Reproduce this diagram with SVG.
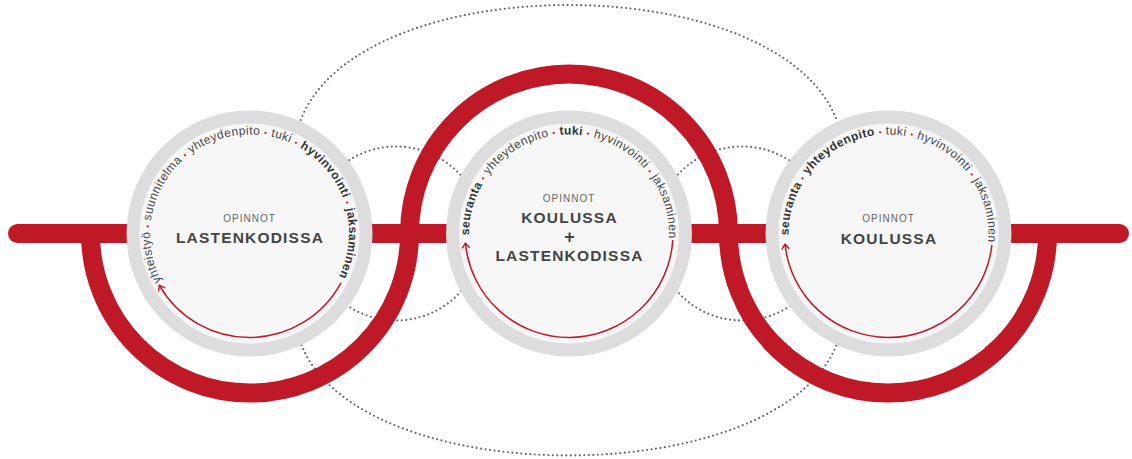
<svg xmlns="http://www.w3.org/2000/svg" width="1132" height="459" viewBox="0 0 1132 459">
<style>
.dotline{fill:none;stroke:#6a6a6a;stroke-width:2.2;stroke-linecap:round;stroke-dasharray:0 4.5}
.red{fill:none;stroke:#BF1827;stroke-width:19}
.ring{fill:#DCDDDC}
.inner{fill:#F7F7F7}
.arc{font-family:"Liberation Sans",Arial,sans-serif;font-size:12px;fill:#474747;letter-spacing:0.42px}
.b{font-weight:bold;fill:#333}
.sep{fill:#BF1827;font-size:8px}
.op{font-family:"Liberation Sans",Arial,sans-serif;font-size:10px;fill:#666;letter-spacing:1px;text-anchor:middle}
.ttl{font-family:"Liberation Sans",Arial,sans-serif;font-size:15.5px;font-weight:bold;fill:#444;letter-spacing:1.2px;text-anchor:middle}
.arrow{fill:none;stroke:#BF1827;stroke-width:1.5}
</style>
<defs>
<marker id="ah" markerUnits="userSpaceOnUse" viewBox="-7 -5 9 10" markerWidth="9" markerHeight="10" refX="0" refY="0" orient="auto">
<path d="M-5,-3.8 L0,0 L-5,3.8" fill="none" stroke="#BF1827" stroke-width="1.4"/>
</marker>
<path id="tp1" d="M161.54,281.06 A100,100 0 0 1 337.46,185.94 A100,100 0 0 1 161.54,281.06"/>
<path id="tp2" d="M469.02,235.25 A100,100 0 0 1 668.98,231.75 A100,100 0 0 1 469.02,235.25"/>
<path id="tp3" d="M788.52,235.25 A100,100 0 0 1 988.48,231.75 A100,100 0 0 1 788.52,235.25"/>
</defs>
<rect width="1132" height="459" fill="#ffffff"/>
<g id="connectors">
<path class="dotline" d="M300.7,120 C360,-33.3 777.4,-33.3 836.7,120"/>
<path class="dotline" d="M301.5,345 C360,492.3 777,492.3 836.5,345"/>
<circle class="dotline" cx="396" cy="233.5" r="87"/>
<circle class="dotline" cx="742" cy="233.5" r="87"/>
<line class="red" x1="17.5" y1="233.5" x2="1119.5" y2="233.5" stroke-linecap="round"/>
<path class="red" d="M90.5,233.5 A159.5,159.5 0 0 0 409.5,233.5 A159.5,159.5 0 0 1 728.5,233.5 A159.5,159.5 0 0 0 1047.5,233.5"/>
</g>
<g id="node-lastenkodissa">
<circle class="ring" cx="249.5" cy="233.5" r="123"/>
<circle class="inner" cx="249.5" cy="233.5" r="110"/>
<text class="arc"><textPath href="#tp1">yhteistyö <tspan class="sep">•</tspan> suunnitelma <tspan class="sep">•</tspan> yhteydenpito <tspan class="sep">•</tspan> tuki <tspan class="sep">•</tspan> <tspan class="b">hyvinvointi</tspan> <tspan class="sep">•</tspan> <tspan class="b">jaksaminen</tspan></textPath></text>
<path class="arrow" d="M340.98,282.96 A104,104 0 0 1 159.34,285.34" marker-end="url(#ah)"/>
<text class="op" x="249.5" y="221.7">OPINNOT</text>
<text class="ttl" x="250" y="243.3">LASTENKODISSA</text>
</g>
<g id="node-koulussa-lastenkodissa">
<circle class="ring" cx="569" cy="233.5" r="123"/>
<circle class="inner" cx="569" cy="233.5" r="110"/>
<text class="arc"><textPath href="#tp2"><tspan class="b">seuranta</tspan> <tspan class="sep">•</tspan> yhteydenpito <tspan class="sep">•</tspan> <tspan class="b">tuki</tspan> <tspan class="sep">•</tspan> hyvinvointi <tspan class="sep">•</tspan> jaksaminen</textPath></text>
<path class="arrow" d="M672.79,240.03 A104,104 0 0 1 465.44,243.11" marker-end="url(#ah)"/>
<text class="op" x="569" y="201.7">OPINNOT</text>
<text class="ttl" x="569.5" y="223.3">KOULUSSA</text>
<text class="ttl" x="569.5" y="243" style="font-size:18px;letter-spacing:0">+</text>
<text class="ttl" x="569.5" y="260.7">LASTENKODISSA</text>
</g>
<g id="node-koulussa">
<circle class="ring" cx="888.5" cy="233.5" r="123"/>
<circle class="inner" cx="888.5" cy="233.5" r="110"/>
<text class="arc"><textPath href="#tp3"><tspan class="b">seuranta</tspan> <tspan class="sep">•</tspan> <tspan class="b">yhteydenpito</tspan> <tspan class="sep">•</tspan> tuki <tspan class="sep">•</tspan> hyvinvointi <tspan class="sep">•</tspan> jaksaminen</textPath></text>
<path class="arrow" d="M991.85,245.09 A104,104 0 0 1 785.05,244.19" marker-end="url(#ah)"/>
<text class="op" x="888.5" y="221.7">OPINNOT</text>
<text class="ttl" x="889" y="244.3">KOULUSSA</text>
</g>
</svg>
